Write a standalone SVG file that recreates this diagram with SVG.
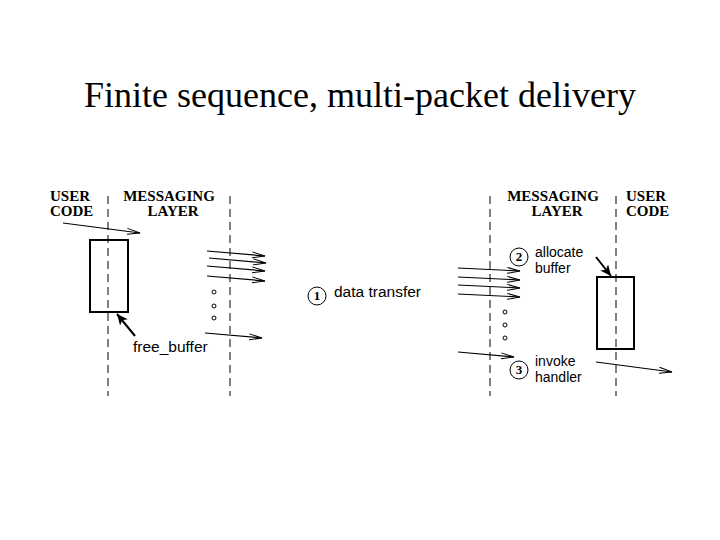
<svg xmlns="http://www.w3.org/2000/svg" width="720" height="540" viewBox="0 0 720 540">
<style>
.d{stroke:#000;stroke-width:1;stroke-dasharray:8,5;fill:none}
.a{stroke:#000;stroke-width:1.2;fill:none;marker-end:url(#ah)}
.h{font-family:"Liberation Serif",serif;font-weight:bold;font-size:15px}
.t{font-family:"Liberation Sans",sans-serif;font-size:15.5px}
.s{font-family:"Liberation Sans",sans-serif;font-size:14px}
.n{font-family:"Liberation Serif",serif;font-weight:bold;font-size:13px}
</style>
<defs>
<marker id="ah" markerWidth="14" markerHeight="8" refX="13" refY="4" orient="auto" markerUnits="userSpaceOnUse"><path d="M0,1 L13,4 L0,7" fill="none" stroke="#000"/></marker>
<marker id="bh" markerWidth="12" markerHeight="10" refX="11" refY="5" orient="auto" markerUnits="userSpaceOnUse"><path d="M0,0 L11,5 L0,10 L3,5z" fill="#000"/></marker>
</defs>
<rect width="720" height="540" fill="#fff"/>
<text x="360" y="107" text-anchor="middle" font-family="Liberation Serif,serif" font-size="36">Finite sequence, multi-packet delivery</text>
<g id="headers">
<text class="h" x="50" y="201">USER</text><text class="h" x="50" y="216">CODE</text>
<text class="h" x="169" y="201" text-anchor="middle">MESSAGING</text><text class="h" x="173" y="216" text-anchor="middle">LAYER</text>
<text class="h" x="553" y="201" text-anchor="middle">MESSAGING</text><text class="h" x="557" y="216" text-anchor="middle">LAYER</text>
<text class="h" x="626" y="201">USER</text><text class="h" x="626" y="216">CODE</text>
</g>
<g id="lanes">
<line class="d" x1="108" y1="196" x2="108" y2="396"/>
<line class="d" x1="230" y1="196" x2="230" y2="396"/>
<line class="d" x1="490" y1="196" x2="490" y2="396"/>
<line class="d" x1="616" y1="196" x2="616" y2="396"/>
</g>
<g id="buf-left"><rect x="90" y="240" width="38" height="72" fill="none" stroke="#000" stroke-width="2"/></g>
<g id="buf-right"><rect x="597" y="277" width="37" height="72" fill="none" stroke="#000" stroke-width="2"/></g>
<g id="dots" fill="none" stroke="#000">
<circle cx="214" cy="292" r="2"/><circle cx="214" cy="306" r="2"/><circle cx="214" cy="318" r="2"/>
<circle cx="505" cy="312" r="2"/><circle cx="505" cy="325" r="2"/><circle cx="505" cy="338" r="2"/>
</g>
<g id="labels">
<circle cx="317" cy="296" r="9" fill="none" stroke="#000"/><text class="n" x="317" y="300" text-anchor="middle">1</text>
<text class="t" x="334" y="297">data transfer</text>
<circle cx="519" cy="257" r="9" fill="none" stroke="#000"/><text class="n" x="519" y="261" text-anchor="middle">2</text>
<text class="s" x="535" y="257">allocate</text><text class="s" x="535" y="273">buffer</text>
<circle cx="519" cy="370" r="9" fill="none" stroke="#000"/><text class="n" x="519" y="374" text-anchor="middle">3</text>
<text class="s" x="535" y="366">invoke</text><text class="s" x="535" y="382">handler</text>
<text class="t" x="133" y="352">free_buffer</text>
</g>
<g id="connectors">
<line class="a" x1="63" y1="223" x2="140" y2="233"/>
<line class="a" x1="207" y1="251" x2="265" y2="256"/>
<line class="a" x1="209" y1="258" x2="266" y2="263"/>
<line class="a" x1="207" y1="266" x2="265" y2="271"/>
<line class="a" x1="207" y1="276" x2="265" y2="281"/>
<line class="a" x1="205" y1="333" x2="262" y2="338"/>
<line class="a" x1="458" y1="268" x2="520" y2="271"/>
<line class="a" x1="458" y1="277" x2="520" y2="280"/>
<line class="a" x1="458" y1="285" x2="520" y2="288"/>
<line class="a" x1="458" y1="294" x2="520" y2="297"/>
<line class="a" x1="458" y1="352" x2="514" y2="357"/>
<line class="a" x1="596" y1="362" x2="672" y2="372"/>
<line x1="135" y1="336" x2="117" y2="314" stroke="#000" stroke-width="2" marker-end="url(#bh)"/>
<line x1="596" y1="257" x2="611" y2="276" stroke="#000" stroke-width="2" marker-end="url(#bh)"/>
</g>
</svg>
